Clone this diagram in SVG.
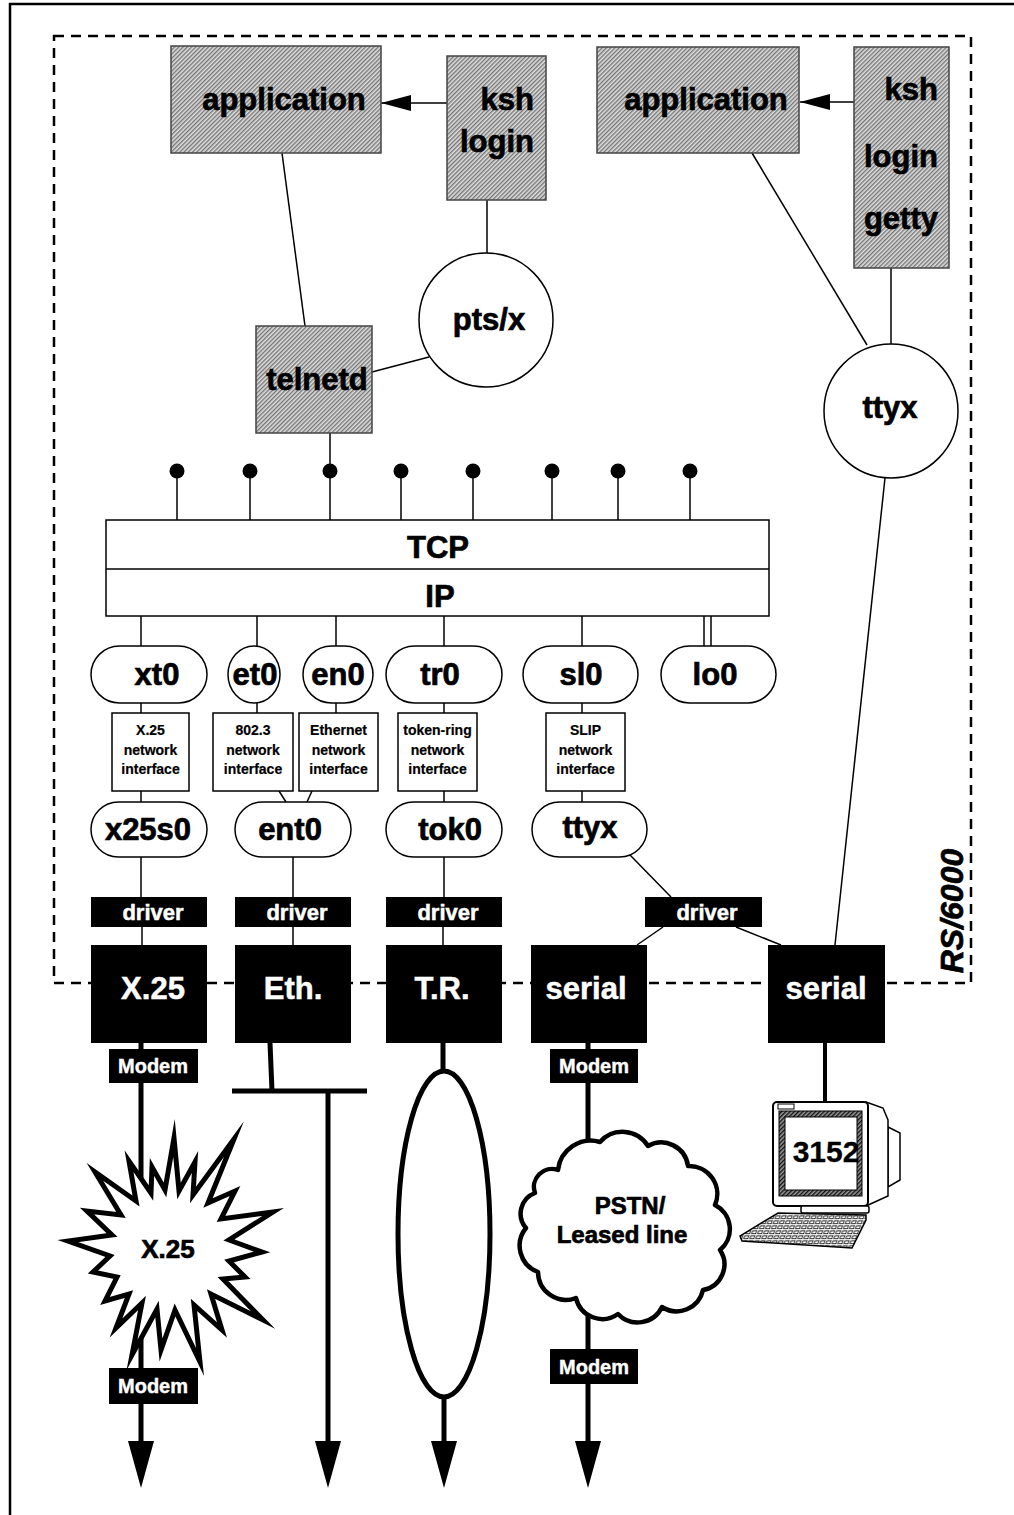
<svg xmlns="http://www.w3.org/2000/svg" width="1014" height="1515" viewBox="0 0 1014 1515">
  <style>
    .lbl { font-family: "Liberation Sans", Arial, sans-serif; font-weight: bold; font-size: 31px; fill: #000; stroke: #000; stroke-width: 0.7; text-anchor: middle; }
    .end { text-anchor: end; }
    .wht { fill: #fff; stroke: #fff; stroke-width: 0.5; }
    .drv { font-size: 22px; }
    .mdm { font-size: 20px; stroke-width: 0.4; }
    .sm { font-size: 14px; stroke-width: 0.2; }
    .conn { stroke: #000; stroke-width: 1.5; fill: none; }
    .thick { stroke: #000; stroke-width: 5; fill: none; }
    .pill { fill: #fff; stroke: #000; stroke-width: 1.5; }
    .ibox { fill: #fff; stroke: #000; stroke-width: 1.5; }
    .hbox { fill: url(#hatch); stroke: #444; stroke-width: 1.5; }
    .blk { fill: #000; }
    .circ { fill: #fff; stroke: #000; stroke-width: 1.5; }
  </style>
  <defs>
    <pattern id="hatch" width="3" height="3" patternUnits="userSpaceOnUse" patternTransform="rotate(45)">
      <rect width="3" height="3" fill="#dedede"/>
      <line x1="0.7" y1="0" x2="0.7" y2="3" stroke="#707070" stroke-width="1.3"/>
    </pattern>
    <pattern id="bezel" width="3" height="3" patternUnits="userSpaceOnUse" patternTransform="rotate(45)">
      <rect width="3" height="3" fill="#999"/>
      <line x1="0.7" y1="0" x2="0.7" y2="3" stroke="#111" stroke-width="1.4"/>
    </pattern>
    <pattern id="keys" width="6" height="5" patternUnits="userSpaceOnUse" patternTransform="skewX(-20)">
      <rect width="6" height="5" fill="#fff"/>
      <rect x="0.8" y="0.8" width="4" height="3" fill="#fff" stroke="#000" stroke-width="0.8"/>
    </pattern>
    <marker id="smallArrow" viewBox="0 0 30 16" refX="30" refY="8" markerWidth="30" markerHeight="16" markerUnits="userSpaceOnUse" orient="auto">
      <path d="M0,0 L30,8 L0,16 Z" fill="#000"/>
    </marker>
    <marker id="bigArrow" viewBox="0 0 47 26" refX="0" refY="13" markerWidth="47" markerHeight="26" markerUnits="userSpaceOnUse" orient="auto">
      <path d="M0,0 L47,13 L0,26 Z" fill="#000"/>
    </marker>
  </defs>

  <rect width="1014" height="1515" fill="#fff"/>
  <!-- page frame -->
  <path d="M10,1515 V4 H1014" fill="none" stroke="#000" stroke-width="2.5"/>

  <!-- RS/6000 machine boundary -->
  <g id="rs6000">
    <rect x="54" y="36" width="917" height="947" fill="none" stroke="#000" stroke-width="2.5" stroke-dasharray="10 7"/>
    <text class="lbl" transform="translate(963 911) rotate(-90)" style="font-style: italic; font-size: 32px;">RS/6000</text>
  </g>

  <!-- connectors -->
  <g id="connectors">
    <line class="conn" x1="447" y1="103" x2="381" y2="103" marker-end="url(#smallArrow)"/>
    <line class="conn" x1="854" y1="102" x2="800" y2="102" marker-end="url(#smallArrow)"/>
    <line class="conn" x1="282" y1="153" x2="305" y2="326"/>
    <line class="conn" x1="487" y1="200" x2="487" y2="253"/>
    <line class="conn" x1="372" y1="372" x2="429" y2="357"/>
    <line class="conn" x1="330" y1="433" x2="330" y2="471"/>
    <line class="conn" x1="752" y1="153" x2="867" y2="345"/>
    <line class="conn" x1="891" y1="268" x2="891" y2="344"/>
    <line class="conn" x1="885" y1="478" x2="835" y2="945"/>

    <!-- TCP ports -->
    <g id="ports">
      <line class="conn" x1="177" y1="471" x2="177" y2="520"/>
      <line class="conn" x1="250" y1="471" x2="250" y2="520"/>
      <line class="conn" x1="330" y1="471" x2="330" y2="520"/>
      <line class="conn" x1="401" y1="471" x2="401" y2="520"/>
      <line class="conn" x1="473" y1="471" x2="473" y2="520"/>
      <line class="conn" x1="552" y1="471" x2="552" y2="520"/>
      <line class="conn" x1="618" y1="471" x2="618" y2="520"/>
      <line class="conn" x1="690" y1="471" x2="690" y2="520"/>
      <circle cx="177" cy="471" r="7.5"/>
      <circle cx="250" cy="471" r="7.5"/>
      <circle cx="330" cy="471" r="7.5"/>
      <circle cx="401" cy="471" r="7.5"/>
      <circle cx="473" cy="471" r="7.5"/>
      <circle cx="552" cy="471" r="7.5"/>
      <circle cx="618" cy="471" r="7.5"/>
      <circle cx="690" cy="471" r="7.5"/>
    </g>

    <!-- IP to interfaces -->
    <line class="conn" x1="141" y1="616" x2="141" y2="646"/>
    <line class="conn" x1="257" y1="616" x2="257" y2="646"/>
    <line class="conn" x1="336" y1="616" x2="336" y2="646"/>
    <line class="conn" x1="444" y1="616" x2="444" y2="646"/>
    <line class="conn" x1="582" y1="616" x2="582" y2="646"/>
    <line class="conn" x1="704" y1="616" x2="704" y2="646"/>
    <line class="conn" x1="711" y1="616" x2="711" y2="646"/>

    <line class="conn" x1="141" y1="703" x2="141" y2="713"/>
    <line class="conn" x1="257" y1="703" x2="257" y2="713"/>
    <line class="conn" x1="336" y1="703" x2="336" y2="713"/>
    <line class="conn" x1="444" y1="703" x2="444" y2="713"/>
    <line class="conn" x1="582" y1="703" x2="582" y2="713"/>

    <line class="conn" x1="141" y1="791" x2="141" y2="802"/>
    <line class="conn" x1="279" y1="791" x2="286" y2="802"/>
    <line class="conn" x1="312" y1="791" x2="307" y2="802"/>
    <line class="conn" x1="444" y1="791" x2="444" y2="802"/>
    <line class="conn" x1="582" y1="791" x2="582" y2="802"/>

    <line class="conn" x1="141" y1="857" x2="141" y2="897"/>
    <line class="conn" x1="293" y1="857" x2="293" y2="897"/>
    <line class="conn" x1="444" y1="857" x2="444" y2="897"/>
    <line class="conn" x1="630" y1="855" x2="671" y2="897"/>

    <line class="conn" x1="142" y1="927" x2="142" y2="945"/>
    <line class="conn" x1="293" y1="927" x2="293" y2="945"/>
    <line class="conn" x1="443" y1="927" x2="443" y2="945"/>
    <line class="conn" x1="663" y1="927" x2="637" y2="945"/>
    <line class="conn" x1="736" y1="927" x2="781" y2="945"/>

    <!-- external media -->
    <line class="thick" x1="141" y1="1043" x2="141" y2="1441" marker-end="url(#bigArrow)"/>
    <path class="thick" d="M270,1043 L272,1091"/>
    <path class="thick" d="M232,1091 H367"/>
    <line class="thick" x1="328" y1="1091" x2="328" y2="1441" marker-end="url(#bigArrow)"/>
    <line class="thick" x1="443" y1="1043" x2="443" y2="1072"/>
    <line class="thick" x1="444" y1="1396" x2="444" y2="1441" marker-end="url(#bigArrow)"/>
    <line class="thick" x1="588" y1="1043" x2="588" y2="1441" marker-end="url(#bigArrow)"/>
    <line class="thick" x1="825" y1="1043" x2="825" y2="1103" style="stroke-width:4"/>
  </g>

  <!-- processes -->
  <g id="app-telnet">
    <rect class="hbox" x="171" y="46" width="210" height="107"/>
    <text class="lbl" x="284" y="110">application</text>
  </g>
  <g id="ksh-login-pty">
    <rect class="hbox" x="447" y="56" width="99" height="144"/>
    <text class="lbl end" x="534" y="110">ksh</text>
    <text class="lbl end" x="534" y="152">login</text>
  </g>
  <g id="pts">
    <circle class="circ" cx="486" cy="320" r="67"/>
    <text class="lbl" x="489" y="330">pts/x</text>
  </g>
  <g id="telnetd">
    <rect class="hbox" x="256" y="326" width="116" height="107"/>
    <text class="lbl" x="317" y="390">telnetd</text>
  </g>
  <g id="app-tty">
    <rect class="hbox" x="597" y="47" width="202" height="106"/>
    <text class="lbl" x="706" y="110">application</text>
  </g>
  <g id="ksh-login-getty">
    <rect class="hbox" x="854" y="47" width="95" height="221"/>
    <text class="lbl end" x="938" y="100">ksh</text>
    <text class="lbl end" x="938" y="167">login</text>
    <text class="lbl end" x="938" y="229">getty</text>
  </g>
  <g id="tty">
    <circle class="circ" cx="891" cy="411" r="67"/>
    <text class="lbl" x="890" y="418">ttyx</text>
  </g>

  <!-- protocol stack -->
  <g id="tcp-ip">
    <rect x="106" y="520" width="663" height="96" fill="#fff" stroke="#000" stroke-width="1.5"/>
    <line x1="106" y1="569" x2="769" y2="569" stroke="#000" stroke-width="1.5"/>
    <text class="lbl" x="438" y="558">TCP</text>
    <text class="lbl" x="440" y="607">IP</text>
  </g>

  <!-- network interfaces -->
  <g id="xt0"><rect class="pill" x="91" y="646" width="116" height="57" rx="28.5"/><text class="lbl" x="157" y="685">xt0</text></g>
  <g id="et0"><rect class="pill" x="228" y="646" width="52" height="57" rx="26" ry="28.5"/><text class="lbl" x="255" y="685">et0</text></g>
  <g id="en0"><rect class="pill" x="303" y="646" width="70" height="57" rx="28.5"/><text class="lbl" x="338" y="685">en0</text></g>
  <g id="tr0"><rect class="pill" x="386" y="646" width="116" height="57" rx="28.5"/><text class="lbl" x="440" y="685">tr0</text></g>
  <g id="sl0"><rect class="pill" x="523" y="646" width="115" height="57" rx="28.5"/><text class="lbl" x="581" y="685">sl0</text></g>
  <g id="lo0"><rect class="pill" x="661" y="646" width="115" height="57" rx="28.5"/><text class="lbl" x="715" y="685">lo0</text></g>

  <g id="if-x25">
    <rect class="ibox" x="112" y="713" width="77" height="78"/>
    <text class="lbl sm" x="150.5" y="735">X.25</text>
    <text class="lbl sm" x="150.5" y="755">network</text>
    <text class="lbl sm" x="150.5" y="774">interface</text>
  </g>
  <g id="if-8023">
    <rect class="ibox" x="213" y="713" width="80" height="78"/>
    <text class="lbl sm" x="253" y="735">802.3</text>
    <text class="lbl sm" x="253" y="755">network</text>
    <text class="lbl sm" x="253" y="774">interface</text>
  </g>
  <g id="if-ethernet">
    <rect class="ibox" x="299" y="713" width="79" height="78"/>
    <text class="lbl sm" x="338.5" y="735">Ethernet</text>
    <text class="lbl sm" x="338.5" y="755">network</text>
    <text class="lbl sm" x="338.5" y="774">interface</text>
  </g>
  <g id="if-tokenring">
    <rect class="ibox" x="398" y="713" width="79" height="78"/>
    <text class="lbl sm" x="437.5" y="735">token-ring</text>
    <text class="lbl sm" x="437.5" y="755">network</text>
    <text class="lbl sm" x="437.5" y="774">interface</text>
  </g>
  <g id="if-slip">
    <rect class="ibox" x="546" y="713" width="79" height="78"/>
    <text class="lbl sm" x="585.5" y="735">SLIP</text>
    <text class="lbl sm" x="585.5" y="755">network</text>
    <text class="lbl sm" x="585.5" y="774">interface</text>
  </g>

  <!-- devices -->
  <g id="x25s0"><rect class="pill" x="91" y="802" width="116" height="55" rx="27.5"/><text class="lbl" x="148" y="840">x25s0</text></g>
  <g id="ent0"><rect class="pill" x="235" y="802" width="116" height="55" rx="27.5"/><text class="lbl" x="290" y="840">ent0</text></g>
  <g id="tok0"><rect class="pill" x="386" y="802" width="116" height="55" rx="27.5"/><text class="lbl" x="450" y="840">tok0</text></g>
  <g id="ttyx-slip"><rect class="pill" x="532" y="802" width="115" height="55" rx="27.5"/><text class="lbl" x="590" y="838">ttyx</text></g>

  <!-- drivers -->
  <g id="drv-x25"><rect class="blk" x="91" y="897" width="116" height="30"/><text class="lbl wht drv" x="153" y="920">driver</text></g>
  <g id="drv-eth"><rect class="blk" x="235" y="897" width="116" height="30"/><text class="lbl wht drv" x="297" y="920">driver</text></g>
  <g id="drv-tr"><rect class="blk" x="386" y="897" width="116" height="30"/><text class="lbl wht drv" x="448" y="920">driver</text></g>
  <g id="drv-serial"><rect class="blk" x="645" y="897" width="117" height="30"/><text class="lbl wht drv" x="707" y="920">driver</text></g>

  <!-- adapters -->
  <g id="ad-x25"><rect class="blk" x="91" y="945" width="116" height="98"/><text class="lbl wht" x="153" y="999">X.25</text></g>
  <g id="ad-eth"><rect class="blk" x="235" y="945" width="116" height="98"/><text class="lbl wht" x="293" y="999">Eth.</text></g>
  <g id="ad-tr"><rect class="blk" x="386" y="945" width="116" height="98"/><text class="lbl wht" x="442" y="999">T.R.</text></g>
  <g id="ad-serial1"><rect class="blk" x="531" y="945" width="116" height="98"/><text class="lbl wht" x="586" y="999">serial</text></g>
  <g id="ad-serial2"><rect class="blk" x="768" y="945" width="117" height="98"/><text class="lbl wht" x="826" y="999">serial</text></g>

  <!-- modems -->
  <g id="modem-x25-a"><rect class="blk" x="109" y="1049" width="89" height="34"/><text class="lbl wht mdm" x="153" y="1073">Modem</text></g>
  <g id="modem-x25-b"><rect class="blk" x="109" y="1368" width="89" height="36"/><text class="lbl wht mdm" x="153" y="1393">Modem</text></g>
  <g id="modem-ser-a"><rect class="blk" x="550" y="1049" width="88" height="34"/><text class="lbl wht mdm" x="594" y="1073">Modem</text></g>
  <g id="modem-ser-b"><rect class="blk" x="550" y="1349" width="88" height="35"/><text class="lbl wht mdm" x="594" y="1374">Modem</text></g>

  <!-- X.25 network -->
  <g id="x25-net">
    <polygon fill="#fff" stroke="#000" stroke-width="5" stroke-linejoin="miter" stroke-miterlimit="10"
      points="262,1252 229,1261 245,1277 223,1279 263,1320 211,1294 222,1330 194,1305 200,1362 175,1310 161,1350 157,1309 132,1355 142,1303 116,1328 129,1294 105,1301 117,1277 93,1272 110,1256 68,1241 112,1235 87,1211 121,1215 95,1172 136,1201 129,1161 151,1193 152,1167 165,1190 174,1138 179,1191 195,1162 193,1195 234,1139 208,1203 235,1191 221,1219 273,1212 229,1240"/>
    <text class="lbl" x="168" y="1258" style="font-size:26px">X.25</text>
  </g>

  <!-- token ring -->
  <g id="tr-ring">
    <ellipse cx="444" cy="1234" rx="46" ry="163" fill="none" stroke="#000" stroke-width="5"/>
  </g>

  <!-- telephone network -->
  <g id="pstn">
    <path fill="#fff" stroke="#000" stroke-width="4.5" stroke-linejoin="round"
      d="M558,1170 A33,33 0 0 1 600,1142 A30,30 0 0 1 648,1146 A27,27 0 0 1 688,1166 A28,28 0 0 1 715,1205 A27,27 0 0 1 720,1250 A26,26 0 0 1 703,1290 A27,27 0 0 1 662,1307 A27,27 0 0 1 618,1314 A27,27 0 0 1 576,1298 A28,28 0 0 1 538,1272 A28,28 0 0 1 526,1228 A22,22 0 0 1 535,1193 A18,18 0 0 1 558,1170 Z"/>
    <text class="lbl" x="630" y="1214" style="font-size:24px">PSTN/</text>
    <text class="lbl" x="622" y="1243" style="font-size:24px">Leased line</text>
  </g>

  <!-- 3152 terminal -->
  <g id="terminal">
    <path d="M888,1127 L900,1133 L900,1180 L888,1187 Z" fill="#fff" stroke="#000" stroke-width="1.5"/>
    <path d="M866,1102 L883,1108 L888,1120 L888,1196 L866,1206 Z" fill="#fff" stroke="#000" stroke-width="1.5"/>
    <rect x="773" y="1102" width="95" height="104" rx="4" fill="#fff" stroke="#000" stroke-width="2"/>
    <rect x="778" y="1104" width="16" height="5" fill="#fff" stroke="#000" stroke-width="1"/>
    <rect x="779" y="1111" width="83" height="85" fill="url(#bezel)" stroke="#000" stroke-width="1"/>
    <rect x="785" y="1117" width="72" height="73" fill="#fff" stroke="#000" stroke-width="1"/>
    <rect x="801" y="1206" width="68" height="7" rx="2" fill="#fff" stroke="#000" stroke-width="1.5"/>
    <polygon points="778,1213 866,1215 866,1220 852,1248 742,1241 740,1236" fill="url(#keys)" stroke="#000" stroke-width="1.5"/>
    <text class="lbl" x="826" y="1162" style="font-size:30px; stroke-width:0.3">3152</text>
  </g>
</svg>
